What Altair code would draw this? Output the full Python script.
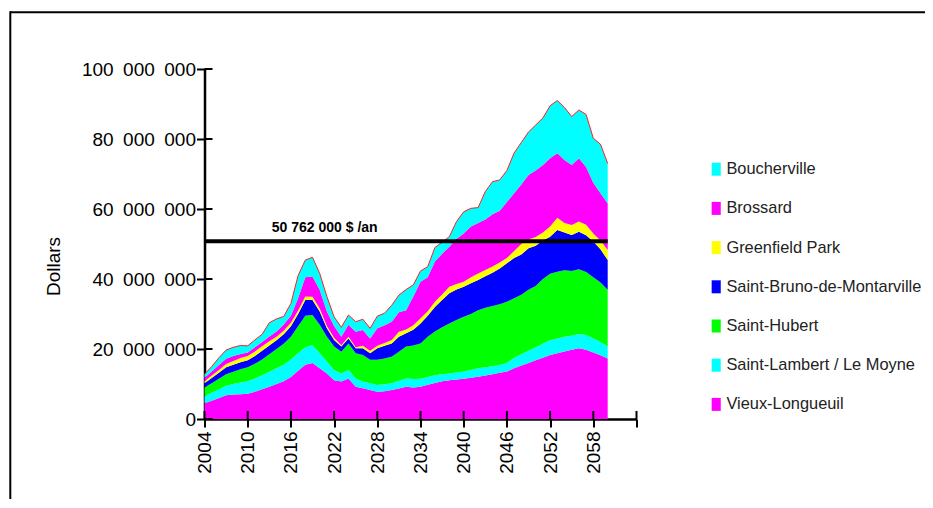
import altair as alt
import pandas as pd

years = list(range(2004, 2061))

# cumulative tops of each band (millions of dollars), bottom to top
top_vieux = [4.5, 5.2, 6.0, 6.8, 7.0, 7.1, 7.2, 7.8, 8.5, 9.2, 10.0, 10.8, 12.0, 13.8, 15.5, 16.0,
             14.5, 13.0, 11.1, 10.7, 11.6, 9.2, 8.8, 8.3, 7.8, 7.9, 8.3, 8.7, 9.2, 9.0, 9.2, 9.8,
             10.3, 10.8, 11.1, 11.3, 11.5, 11.8, 12.1, 12.4, 12.8, 13.2, 13.6, 14.5, 15.3, 16.0,
             16.8, 17.5, 18.3, 18.8, 19.3, 19.8, 20.2, 19.8, 19.0, 18.2, 17.3]
top_lambert = [6.5, 7.5, 8.5, 9.5, 10.0, 10.4, 10.8, 11.6, 12.5, 13.5, 14.5, 15.5, 17.0, 18.8, 20.5, 21.1,
               18.8, 16.4, 14.0, 13.0, 14.0, 11.6, 10.7, 10.2, 9.7, 9.9, 10.2, 10.9, 11.6, 11.4, 11.5, 12.0,
               12.5, 12.8, 13.0, 13.3, 13.6, 14.0, 14.5, 14.8, 15.1, 15.4, 16.0, 17.5, 18.5, 19.5,
               20.5, 21.5, 22.5, 23.0, 23.5, 23.8, 24.3, 24.0, 23.0, 22.0, 20.7]
top_hubert = [9.0, 10.2, 11.5, 12.8, 13.5, 14.2, 14.8, 15.8, 17.0, 18.5, 20.0, 21.5, 23.5, 26.5, 29.5, 29.7,
              26.9, 23.5, 20.7, 19.2, 21.6, 18.8, 18.3, 16.9, 16.9, 17.3, 17.8, 19.2, 20.7, 21.0, 21.6, 23.5,
              25.0, 26.2, 27.3, 28.3, 29.2, 30.0, 31.1, 31.8, 32.3, 32.8, 33.5, 34.5, 35.5, 36.9,
              38.0, 40.0, 41.5, 42.1, 42.5, 42.3, 42.8, 42.0, 40.5, 39.0, 36.9]
top_bruno = [10.2, 11.7, 13.2, 14.8, 15.5, 16.2, 16.8, 18.0, 19.5, 21.0, 22.5, 24.2, 26.5, 30.0, 34.0, 34.0,
             30.7, 25.9, 22.6, 20.7, 23.0, 20.2, 20.2, 18.8, 20.2, 20.9, 21.6, 23.5, 24.5, 25.5, 27.3, 29.5,
             32.0, 34.0, 35.9, 37.0, 37.8, 38.8, 39.7, 40.8, 41.8, 43.0, 44.5, 46.0, 47.0, 48.8,
             49.5, 51.0, 52.1, 54.0, 53.3, 52.6, 53.5, 52.5, 50.7, 48.5, 45.4]
top_greenfield = [10.8, 12.4, 14.0, 15.7, 16.6, 17.4, 18.0, 19.3, 20.8, 22.2, 23.5, 25.2, 27.5, 31.0, 35.0, 34.9,
                  31.6, 26.6, 23.2, 21.1, 23.5, 20.5, 20.9, 19.5, 20.9, 21.7, 22.6, 24.9, 25.6, 26.8, 28.8, 30.8,
                  33.5, 35.6, 37.8, 38.6, 39.2, 40.5, 41.6, 42.6, 43.6, 44.7, 46.0, 48.0, 50.0, 51.3,
                  52.0, 53.3, 55.0, 57.5, 56.0, 55.4, 56.4, 55.5, 53.0, 51.0, 48.3]
top_brossard = [11.8, 13.6, 15.4, 17.2, 18.0, 18.6, 19.0, 20.5, 22.0, 23.6, 25.0, 27.0, 29.5, 34.5, 40.5, 40.7,
                36.9, 30.7, 26.6, 23.5, 26.9, 24.9, 25.4, 23.0, 25.9, 26.8, 27.8, 30.5, 31.1, 35.0, 39.2, 40.5,
                45.0, 47.2, 49.2, 51.5, 53.0, 55.0, 56.0, 57.0, 58.5, 59.5, 62.0, 64.5, 67.0, 69.7,
                71.0, 72.6, 74.5, 75.9, 74.0, 72.6, 74.5, 72.0, 67.5, 64.5, 61.6]
top_boucherville = [12.8, 15.0, 17.5, 19.7, 20.5, 21.0, 20.9, 22.6, 24.2, 27.5, 28.6, 29.3, 33.0, 41.0, 45.4, 46.2,
                    41.6, 35.0, 29.2, 26.2, 29.7, 27.8, 28.5, 25.9, 29.4, 30.2, 32.5, 35.4, 37.0, 38.3, 42.3, 43.5,
                    49.0, 50.5, 52.1, 56.4, 59.2, 60.2, 60.4, 65.0, 67.8, 68.3, 71.0, 76.0, 79.0, 82.0,
                    84.0, 86.0, 89.5, 91.0, 89.0, 86.4, 88.3, 87.0, 80.2, 78.5, 73.0]

legend_names = ["Boucherville", "Brossard", "Greenfield Park", "Saint-Bruno-de-Montarville",
                "Saint-Hubert", "Saint-Lambert / Le Moyne", "Vieux-Longueuil"]
legend_colors = ["#00ffff", "#ff00ff", "#ffff00", "#0000ff", "#00ff00", "#00ffff", "#ff00ff"]
stack_order = ["Vieux-Longueuil", "Saint-Lambert / Le Moyne", "Saint-Hubert",
               "Saint-Bruno-de-Montarville", "Greenfield Park", "Brossard", "Boucherville"]
tops = [top_vieux, top_lambert, top_hubert, top_bruno, top_greenfield, top_brossard, top_boucherville]

target_value = 50762000
target_label = "50 762 000 $ /an"
x_ticks = [2004, 2010, 2016, 2022, 2028, 2034, 2040, 2046, 2052, 2058, 2064]
y_ticks = [0, 20000000, 40000000, 60000000, 80000000, 100000000]

rows = []
for i, name in enumerate(stack_order):
    for j, yr in enumerate(years):
        lo = 0 if i == 0 else tops[i - 1][j]
        rows.append({"year": yr, "series": name, "lo": lo * 1e6, "hi": tops[i][j] * 1e6})
df = pd.DataFrame(rows)
df_total = pd.DataFrame({"year": years, "hi": [v * 1e6 for v in top_boucherville]})

FONT = "Liberation Sans"
xs = alt.Scale(domain=[2004, 2064], nice=False, zero=False)
ys = alt.Scale(domain=[0, 100000000], nice=False)

# thousands separated by an en space, as in the original
ylabel = "replace(replace(format(datum.value, ','), ',', '\u2002'), ',', '\u2002')"

x_axis = alt.Axis(
    values=x_ticks, format="d", labelAngle=-90, title=None, grid=False,
    labelExpr="datum.value > 2060 ? '' : datum.label",
    domainColor="black", domainWidth=2.5, tickColor="black", tickWidth=2, tickSize=8,
    labelPadding=4, labelFontSize=19, labelFont=FONT, labelColor="black")
y_axis = alt.Axis(
    values=y_ticks, labelExpr=ylabel, title="Dollars", grid=False,
    domainColor="black", domainWidth=2.5, tickColor="black", tickWidth=2, tickSize=8,
    labelPadding=1, labelFontSize=19, labelFont=FONT, labelColor="black",
    titleFontSize=19, titleFont=FONT, titleFontWeight="normal", titleColor="black",
    titleAngle=-90, titleX=-151, titleY=197, titleAlign="center", titleBaseline="middle")

areas = alt.Chart(df).mark_area(interpolate="linear").encode(
    x=alt.X("year:Q", scale=xs, axis=x_axis),
    y=alt.Y("hi:Q", scale=ys, axis=y_axis),
    y2="lo:Q",
    color=alt.Color("series:N", scale=alt.Scale(domain=legend_names, range=legend_colors),
                    legend=alt.Legend(title=None, orient="none", legendX=503.5, legendY=92,
                                      symbolType="M-0.7,-1H0.7V1H-0.7Z", symbolSize=169,
                                      symbolStrokeWidth=0, symbolOpacity=1, labelLimit=0,
                                      labelFont=FONT, labelFontSize=16.4, labelColor="#222222",
                                      labelOffset=2, rowPadding=22.2, padding=0)),
)

outline = alt.Chart(df_total).mark_line(color="#ff2020", strokeWidth=1).encode(
    x=alt.X("year:Q", scale=xs, axis=x_axis),
    y=alt.Y("hi:Q", scale=ys, axis=y_axis),
)

target_df = pd.DataFrame({"x0": [2004], "x1": [2060], "v": [target_value]})
target = alt.Chart(target_df).mark_rule(color="black", strokeWidth=4).encode(
    x=alt.X("x0:Q", scale=xs, axis=x_axis), x2="x1:Q",
    y=alt.Y("v:Q", scale=ys, axis=y_axis),
)
label_df = pd.DataFrame({"x": [2020.7], "v": [target_value], "t": [target_label]})
label = alt.Chart(label_df).mark_text(fontSize=14, fontWeight="bold", font=FONT,
                                      color="black", dy=-13).encode(
    x=alt.X("x:Q", scale=xs, axis=x_axis),
    y=alt.Y("v:Q", scale=ys, axis=y_axis),
    text="t:N",
)

xt_df = pd.DataFrame({"t": x_ticks})
xticks_in = alt.Chart(xt_df).mark_rule(color="black", strokeWidth=2).encode(
    x=alt.X("t:Q", scale=xs, axis=x_axis), y=alt.value(342), y2=alt.value(350))
yt_df = pd.DataFrame({"t": y_ticks})
yticks_in = alt.Chart(yt_df).mark_rule(color="black", strokeWidth=2).encode(
    y=alt.Y("t:Q", scale=ys, axis=y_axis), x=alt.value(0), x2=alt.value(8))

one = pd.DataFrame({"a": [0]})
frame_top = alt.Chart(one).mark_rule(color="black", strokeWidth=2).encode(
    x=alt.value(-194.5), x2=alt.value(730), y=alt.value(-56.7))
frame_left = alt.Chart(one).mark_rule(color="black", strokeWidth=2).encode(
    x=alt.value(-194.2), y=alt.value(-57.7), y2=alt.value(445))

chart = alt.layer(areas, outline, target, label, xticks_in, yticks_in, frame_top, frame_left).properties(
    width=432, height=350,
    padding={"left": 196.5, "top": 61, "right": 288, "bottom": 80},
    autosize=alt.AutoSizeParams(type="none"),
).configure_view(strokeWidth=0)

chart.save("out.html", embed_options={"renderer": "svg", "actions": False})
